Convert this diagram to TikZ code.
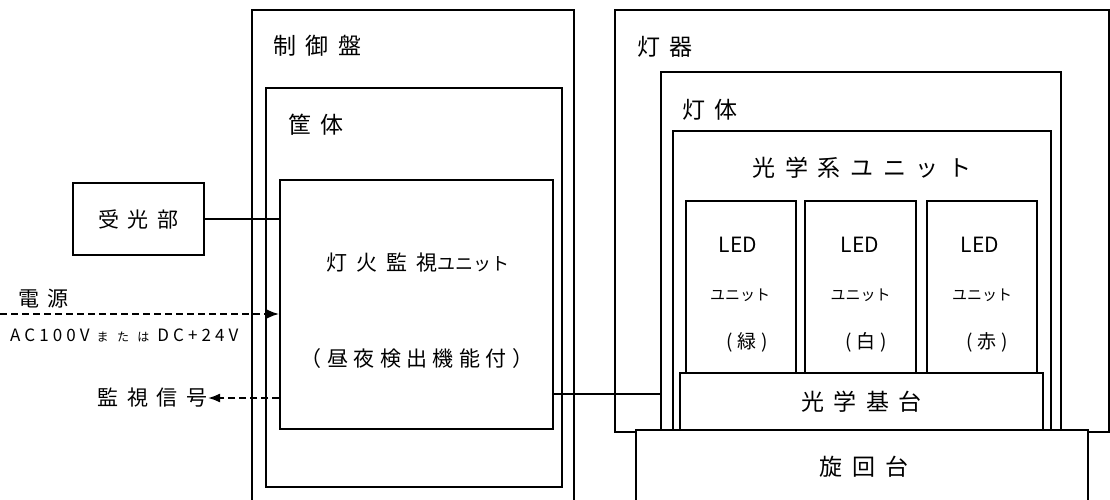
\documentclass[tikz,border=0pt]{standalone}
\usepackage{fontspec}
\newfontfamily\jpfont[LetterSpace=42]{Noto Sans CJK JP}
\newfontfamily\jpplain{Noto Sans CJK JP}
\newfontfamily\jpnarrow[LetterSpace=26]{Noto Sans CJK JP}
\newfontfamily\jplatin[LetterSpace=24]{Noto Sans CJK JP}
\newfontfamily\jpkana[LetterSpace=70]{Noto Sans CJK JP}
\usetikzlibrary{arrows.meta}
\tikzset{
  frame/.style={line width=1.8pt},
  box/.style={draw,line width=1.8pt,inner sep=0pt,fill=white},
  big/.style={font=\jpfont\fontsize{23}{25}\selectfont,inner sep=0pt},
  mid/.style={font=\jpfont\fontsize{21}{23}\selectfont,inner sep=0pt},
  ledtxt/.style={font=\jpplain\fontsize{21}{23}\selectfont,inner sep=0pt},
  unittxt/.style={font=\jpplain\fontsize{15}{17}\selectfont,inner sep=0pt},
  colortxt/.style={font=\jpnarrow\fontsize{19}{21}\selectfont,inner sep=0pt},
  sig/.style={line width=1.8pt,dash pattern=on 7pt off 4pt,-{Latex[length=12pt,width=9pt]}}
}
\begin{document}
\begin{tikzpicture}[x=1pt,y=-1pt]
  \clip (0,0) rectangle (1110,500);
  % control panel side
  \draw[frame](252,520)--(252,10)--(574,10)--(574,520);
  \node[big,anchor=west] (seigyo) at (273,46) {制御盤};
  \draw[frame](266,88) rectangle (562,487);
  \node[big,anchor=west] (kyotai) at (288,125) {筐体};
  \node[box,minimum width=273,minimum height=249] (kanshi) at (416.5,304.5) {};
  \node[mid] (kanshiA) at (418,263) {灯火監視{\jpplain\fontsize{18}{20}\selectfont ユニット}};
  \node[mid,font=\jpnarrow\fontsize{21}{23}\selectfont] (kanshiB) at (417,359) {（昼夜検出機能付）};
  \node[box,mid,minimum width=131,minimum height=72] (jukou) at (138.5,219) {受光部};
  \draw[frame](jukou.east)--(jukou.east -| kanshi.west);
  % power and signal
  \node[mid,anchor=west] (dengen) at (18,299) {電源};
  \coordinate (src) at (0,314);
  \draw[sig](src)--(src -| kanshi.west);
  \node[anchor=west,inner sep=0pt] (acdc) at (10,335) {\fontsize{17}{19}\selectfont\jplatin AC100V\kern7pt{\fontsize{12}{14}\selectfont\jpkana または}\kern8pt DC+24V};
  \node[mid,anchor=east] (kanshiS) at (208,398) {監視信号};
  \draw[sig](kanshiS.east -| kanshi.west)--(kanshiS.east);
  % lamp side
  \draw[frame](615,432) rectangle (1109,10);
  \node[big,anchor=west] (touki) at (637,47) {灯器};
  \node[box,minimum width=400,minimum height=358] (toutai) at (861,251) {};
  \node[big,anchor=west] (toutaiL) at (682,110) {灯体};
  \node[box,minimum width=378,minimum height=299] (kogaku) at (862,280.5) {};
  \node[big] (kogakuL) at (862,168) {光学系ユニット};
  \node[box,minimum width=110,minimum height=172] (ledG) at (741,287) {};
  \node[box,minimum width=111,minimum height=172] (ledW) at (860.5,287) {};
  \node[box,minimum width=110,minimum height=172] (ledR) at (982,287) {};
  \node[ledtxt] (ledGa) at (738,245) {LED};
  \node[unittxt] (ledGb) at (740,295) {ユニット};
  \node[colortxt] (ledGc) at (747,342) {(緑)};
  \node[ledtxt] (ledWa) at (860,245) {LED};
  \node[unittxt] (ledWb) at (860.5,295) {ユニット};
  \node[colortxt] (ledWc) at (866,342) {(白)};
  \node[ledtxt] (ledRa) at (980,245) {LED};
  \node[unittxt] (ledRb) at (982,295) {ユニット};
  \node[colortxt] (ledRc) at (987,342) {(赤)};
  \node[box,big,minimum width=363,minimum height=57] (kiban) at (861.5,401.5) {光学基台};
  \draw[frame,fill=white](636,520) rectangle (1088,430);
  \node[big] (senkai) at (864,467) {旋回台};
  \draw[frame]([yshift=-89.5pt]kanshi.east)--([yshift=-89.5pt]kanshi.east -| toutai.west);
\end{tikzpicture}
\end{document}
